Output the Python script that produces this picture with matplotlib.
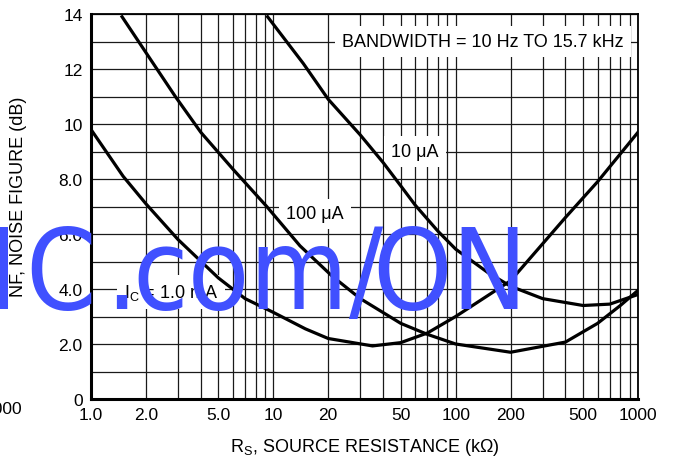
import matplotlib
matplotlib.use('Agg')
import matplotlib.pyplot as plt
from matplotlib import font_manager as fm
from matplotlib.ticker import FixedLocator, NullFormatter

# Curvas (Rs em kOhm, NF em dB)
rs_1ma = [1.0, 1.5, 2.0, 3.0, 5.0, 7.0, 10, 15, 20, 35, 50, 70, 100, 200, 400, 600, 1000]
nf_1ma = [9.8, 8.1, 7.1, 5.8, 4.4, 3.65, 3.15, 2.55, 2.2, 1.93, 2.05, 2.4, 3.0, 4.3, 6.6, 7.9, 9.7]

rs_100ua = [1.48, 2.0, 2.9, 4.0, 6.0, 9.2, 14, 21, 30, 50, 70, 100, 200, 400, 600, 800, 1000]
nf_100ua = [13.9, 12.6, 11.0, 9.7, 8.36, 7.0, 5.57, 4.47, 3.65, 2.75, 2.35, 2.0, 1.7, 2.07, 2.75, 3.4, 3.95]

rs_10ua = [9.3, 14.6, 20, 30, 40, 50, 60, 80, 100, 150, 200, 300, 500, 700, 1000]
nf_10ua = [13.9, 12.2, 10.9, 9.6, 8.6, 7.75, 7.05, 6.1, 5.45, 4.6, 4.1, 3.65, 3.4, 3.45, 3.8]

xticks = [1, 2, 5, 10, 20, 50, 100, 200, 500, 1000]
xtick_labels = ['1.0', '2.0', '5.0', '10', '20', '50', '100', '200', '500', '1000']
yticks = [0, 2, 4, 6, 8, 10, 12, 14]
ytick_labels = ['0', '2.0', '4.0', '6.0', '8.0', '10', '12', '14']

#Procura uma fonte estreita para a marca d'água (se houver)
def narrow_font():
    pref = ['Liberation Sans Narrow', 'Noto Sans', 'DejaVu Sans', 'Open Sans', 'Roboto']
    found = [f for f in fm.fontManager.ttflist
             if f.stretch in ('condensed', 'semi-condensed', 'extra-condensed')
             and f.style == 'normal' and f.weight in (400, 'normal', 'regular')]
    found.sort(key=lambda f: pref.index(f.name) if f.name in pref else 99)
    if found:
        return fm.FontProperties(fname=found[0].fname), found[0].name
    return fm.FontProperties(family='Liberation Sans'), None

def main():
    plt.rcParams['font.family'] = ['Liberation Sans', 'DejaVu Sans']
    plt.rcParams['mathtext.default'] = 'regular'

    fig = plt.figure(figsize=(6.73, 4.64), dpi=100)
    ax = fig.add_axes([91/673, 1-400/464, (638-91)/673, (400-15)/464])

    ax.set_xscale('log')
    ax.set_xlim(1, 1000)
    ax.set_ylim(0, 14)

    #Grade: linhas verticais em cada divisão logarítmica e horizontais em cada dB
    vlines = [m * 10**d for d in range(3) for m in range(1, 10)] + [1000]
    ax.xaxis.set_major_locator(FixedLocator(xticks))
    ax.xaxis.set_minor_locator(FixedLocator(vlines))
    ax.xaxis.set_minor_formatter(NullFormatter())
    ax.set_xticklabels(xtick_labels)
    ax.yaxis.set_major_locator(FixedLocator(yticks))
    ax.yaxis.set_minor_locator(FixedLocator(list(range(0, 15))))
    ax.set_yticklabels(ytick_labels)
    ax.grid(True, which='both', color='#1a1a1a', lw=0.9)
    ax.set_axisbelow(True)
    ax.tick_params(which='both', length=0, labelsize=12.5, pad=6, colors='black')

    for s in ax.spines.values():
        s.set_linewidth(1.3)
    ax.spines['left'].set_linewidth(2.2)
    ax.spines['bottom'].set_linewidth(2.2)

    for x, y in [(rs_1ma, nf_1ma), (rs_100ua, nf_100ua), (rs_10ua, nf_10ua)]:
        ax.plot(x, y, color='black', lw=2.3, solid_joinstyle='round', zorder=5)

    box = dict(facecolor='white', edgecolor='none', pad=5)
    ax.text(141, 13, 'BANDWIDTH = 10 Hz TO 15.7 kHz', ha='center', va='center',
            fontsize=13, bbox=box, zorder=4)
    ax.text(59.8, 9.0, '10 \u03bcA', ha='center', va='center', fontsize=13, bbox=box, zorder=4)
    ax.text(16.9, 6.73, '100 \u03bcA', ha='center', va='center', fontsize=13, bbox=box, zorder=4)
    ax.text(2.75, 3.9, 'I$_C$ = 1.0 mA', ha='center', va='center', fontsize=13, bbox=box, zorder=4)

    ax.set_xlabel('R$_S$, SOURCE RESISTANCE (k\u03a9)', fontsize=13, labelpad=10)
    ax.set_ylabel('NF, NOISE FIGURE (dB)', fontsize=13)
    ax.yaxis.set_label_coords(-0.117, 0.527)

    #Restos da figura vizinha e marca d'água
    fig.text(22/673, 1-410/464, '1000', ha='right', va='center', fontsize=12.5)
    wm = '#4050ff'
    fp, name = narrow_font()
    size = 81 if name else 72
    for s, xc in [('I', 3), ('C', 61), ('.', 121), ('com', 240), ('/', 366), ('ON', 450)]:
        fig.text(xc/673, 1-309/464, s, ha='center', va='baseline', fontproperties=fp,
                 fontsize=size, color=wm, zorder=10)

    fig.savefig('out.png', dpi=100)

if __name__ == '__main__':
    main()
